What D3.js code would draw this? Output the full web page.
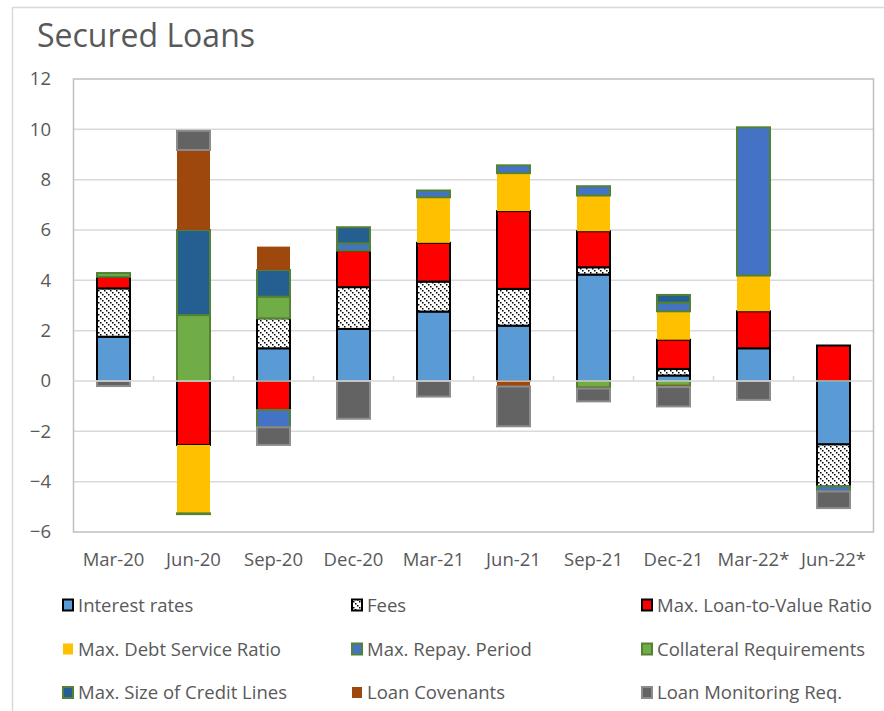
<!DOCTYPE html>
<html>
<head>
<meta charset="utf-8">
<script src="https://cdn.jsdelivr.net/npm/d3@7"></script>
<style>
  html, body { margin: 0; padding: 0; background: #fff; }
  svg { display: block; font-family: "Open Sans", Lato, sans-serif; }
</style>
</head>
<body>
<svg id="chart" width="884" height="711"></svg>
<script>
// Quarterly net balances, secured loans
const categories = ["Mar-20", "Jun-20", "Sep-20", "Dec-20", "Mar-21", "Jun-21", "Sep-21", "Dec-21", "Mar-22*", "Jun-22*"];

const interestRates = [1.76, 0, 1.30, 2.07, 2.76, 2.20, 4.23, 0.22, 1.30, -2.52];
const fees          = [1.92, 0, 1.19, 1.66, 1.19, 1.46, 0.29, 0.26, 0, -1.67];
const loanToValue   = [0.46, -2.54, -1.15, 1.45, 1.54, 3.09, 1.43, 1.16, 1.47, 1.41];
const debtService   = [0, -2.72, 0, 0, 1.81, 1.51, 1.42, 1.13, 1.42, 0];
const repayPeriod   = [0, -0.03, -0.69, 0.29, 0.27, 0.31, 0.37, 0.34, 5.89, -0.20];
const collateral    = [0.15, 2.62, 0.86, 0, 0, 0, -0.25, -0.18, 0, 0];
const creditLines   = [0, 3.38, 1.06, 0.64, 0, 0, 0, 0.31, 0, 0];
const covenants     = [0, 3.18, 0.93, 0, 0, -0.22, -0.05, -0.06, 0, 0];
const monitoring    = [-0.20, 0.76, -0.70, -1.50, -0.62, -1.58, -0.51, -0.77, -0.75, -0.66];

const yTicks = [-6, -4, -2, 0, 2, 4, 6, 8, 10, 12];

const seriesDefs = [
  { key: "Interest rates",             values: interestRates, fill: "#5b9bd5",    stroke: "#000000" },
  { key: "Fees",                       values: fees,          fill: "url(#fees)", stroke: "#000000" },
  { key: "Max. Loan-to-Value Ratio",   values: loanToValue,   fill: "#ff0000",    stroke: "#000000" },
  { key: "Max. Debt Service Ratio",    values: debtService,   fill: "#ffc000",    stroke: "none" },
  { key: "Max. Repay. Period",         values: repayPeriod,   fill: "#4472c4",    stroke: "#548235" },
  { key: "Collateral Requirements",    values: collateral,    fill: "#70ad47",    stroke: "#548235" },
  { key: "Max. Size of Credit Lines",  values: creditLines,   fill: "#255e91",    stroke: "#548235" },
  { key: "Loan Covenants",             values: covenants,     fill: "#9e480e",    stroke: "none" },
  { key: "Loan Monitoring Req.",       values: monitoring,    fill: "#636363",    stroke: "#8c8c8c" }
];

const svg = d3.select("#chart");
const textColor = "#595959";

// pattern for the Fees series: dotted downward diagonals on white
const defs = svg.append("defs");
const pat = defs.append("pattern")
  .attr("id", "fees").attr("patternUnits", "userSpaceOnUse")
  .attr("width", 6).attr("height", 6);
pat.append("rect").attr("width", 6).attr("height", 6).attr("fill", "#fff");
[[0, 0], [2, 2], [4, 4]].forEach(([px, py]) =>
  pat.append("rect").attr("x", px).attr("y", py).attr("width", 1.5).attr("height", 1.5).attr("fill", "#000"));

// outer chart frame
svg.append("rect")
  .attr("x", 12.5).attr("y", 7.5).attr("width", 880).attr("height", 720)
  .attr("fill", "none").attr("stroke", "#d9d9d9").attr("stroke-width", 1.5);

// title
svg.append("text")
  .attr("x", 37).attr("y", 47)
  .attr("font-size", 32).attr("fill", textColor)
  .text("Secured Loans");

const plot = { left: 73.5, right: 873.5, top: 79, bottom: 532 };

const x = d3.scaleBand()
  .domain(categories)
  .range([plot.left, plot.right])
  .paddingInner(0.5875)
  .paddingOuter(0.5875 / 2);

const y = d3.scaleLinear().domain([-6, 12]).range([plot.bottom, plot.top]);

// gridlines
svg.append("g")
  .selectAll("line")
  .data(yTicks.filter(t => t !== 0 && t !== -6 && t !== 12))
  .join("line")
  .attr("x1", plot.left).attr("x2", plot.right)
  .attr("y1", d => y(d)).attr("y2", d => y(d))
  .attr("stroke", "#d9d9d9").attr("stroke-width", 1.5);

// plot frame
svg.append("rect")
  .attr("x", plot.left).attr("y", y(12))
  .attr("width", plot.right - plot.left).attr("height", y(-6) - y(12))
  .attr("fill", "none").attr("stroke", "#bfbfbf").attr("stroke-width", 1.5);

// y axis labels
const yAxis = d3.axisLeft(y).tickValues(yTicks).tickSize(0).tickPadding(0).tickFormat(d3.format("d"));
const yg = svg.append("g").attr("transform", `translate(51,0)`).call(yAxis);
yg.select(".domain").remove();
yg.selectAll("text").attr("font-size", 18.5).attr("fill", textColor).attr("font-family", "'Open Sans', sans-serif");

// stacked bars (positive and negative parts stacked separately)
const table = categories.map((c, i) => {
  const row = { cat: c };
  seriesDefs.forEach(s => { row[s.key] = s.values[i]; });
  return row;
});
const stack = d3.stack()
  .keys(seriesDefs.map(s => s.key))
  .offset(d3.stackOffsetDiverging);
const stacked = stack(table);

const barsG = svg.append("g");
stacked.forEach((layer, si) => {
  const def = seriesDefs[si];
  barsG.append("g")
    .selectAll("rect")
    .data(layer.filter(d => d.data[def.key] !== 0))
    .join("rect")
    .attr("x", d => x(d.data.cat))
    .attr("width", x.bandwidth())
    .attr("y", d => y(Math.max(d[0], d[1])))
    .attr("height", d => Math.abs(y(d[0]) - y(d[1])))
    .attr("fill", def.fill)
    .attr("stroke", def.stroke)
    .attr("stroke-width", def.stroke === "none" ? 0 : 2);
});

// horizontal axis line at zero with small category ticks
const zeroY = y(0);
svg.append("line")
  .attr("x1", plot.left).attr("x2", plot.right)
  .attr("y1", zeroY).attr("y2", zeroY)
  .attr("stroke", "#d9d9d9").attr("stroke-width", 1.5);
svg.append("g")
  .selectAll("line")
  .data(categories.slice(1))
  .join("line")
  .attr("x1", d => x(d) - x.step() * x.paddingInner() / 2)
  .attr("x2", d => x(d) - x.step() * x.paddingInner() / 2)
  .attr("y1", zeroY - 5).attr("y2", zeroY)
  .attr("stroke", "#d9d9d9").attr("stroke-width", 1.5);

// category labels
svg.append("g")
  .selectAll("text")
  .data(categories)
  .join("text")
  .attr("x", d => x(d) + x.bandwidth() / 2)
  .attr("y", 566)
  .attr("text-anchor", "middle")
  .attr("font-size", 18.5).attr("fill", textColor)
  .text(d => d);

// legend, three columns
const legendCols = [62, 351, 641];
const legendRows = [605, 649, 692.5];
const lg = svg.append("g");
seriesDefs.forEach((s, i) => {
  const cx = legendCols[i % 3];
  const cy = legendRows[Math.floor(i / 3)];
  const g = lg.append("g").attr("transform", `translate(${cx},${cy})`);
  g.append("rect")
    .attr("x", 1).attr("y", -5.5).attr("width", 10).attr("height", 11)
    .attr("fill", s.fill)
    .attr("stroke", s.stroke)
    .attr("stroke-width", s.stroke === "none" ? 0 : 2);
  g.append("text")
    .attr("x", 16).attr("y", 6.5)
    .attr("font-size", 18.5).attr("fill", textColor)
    .text(s.key);
});
</script>
</body>
</html>
